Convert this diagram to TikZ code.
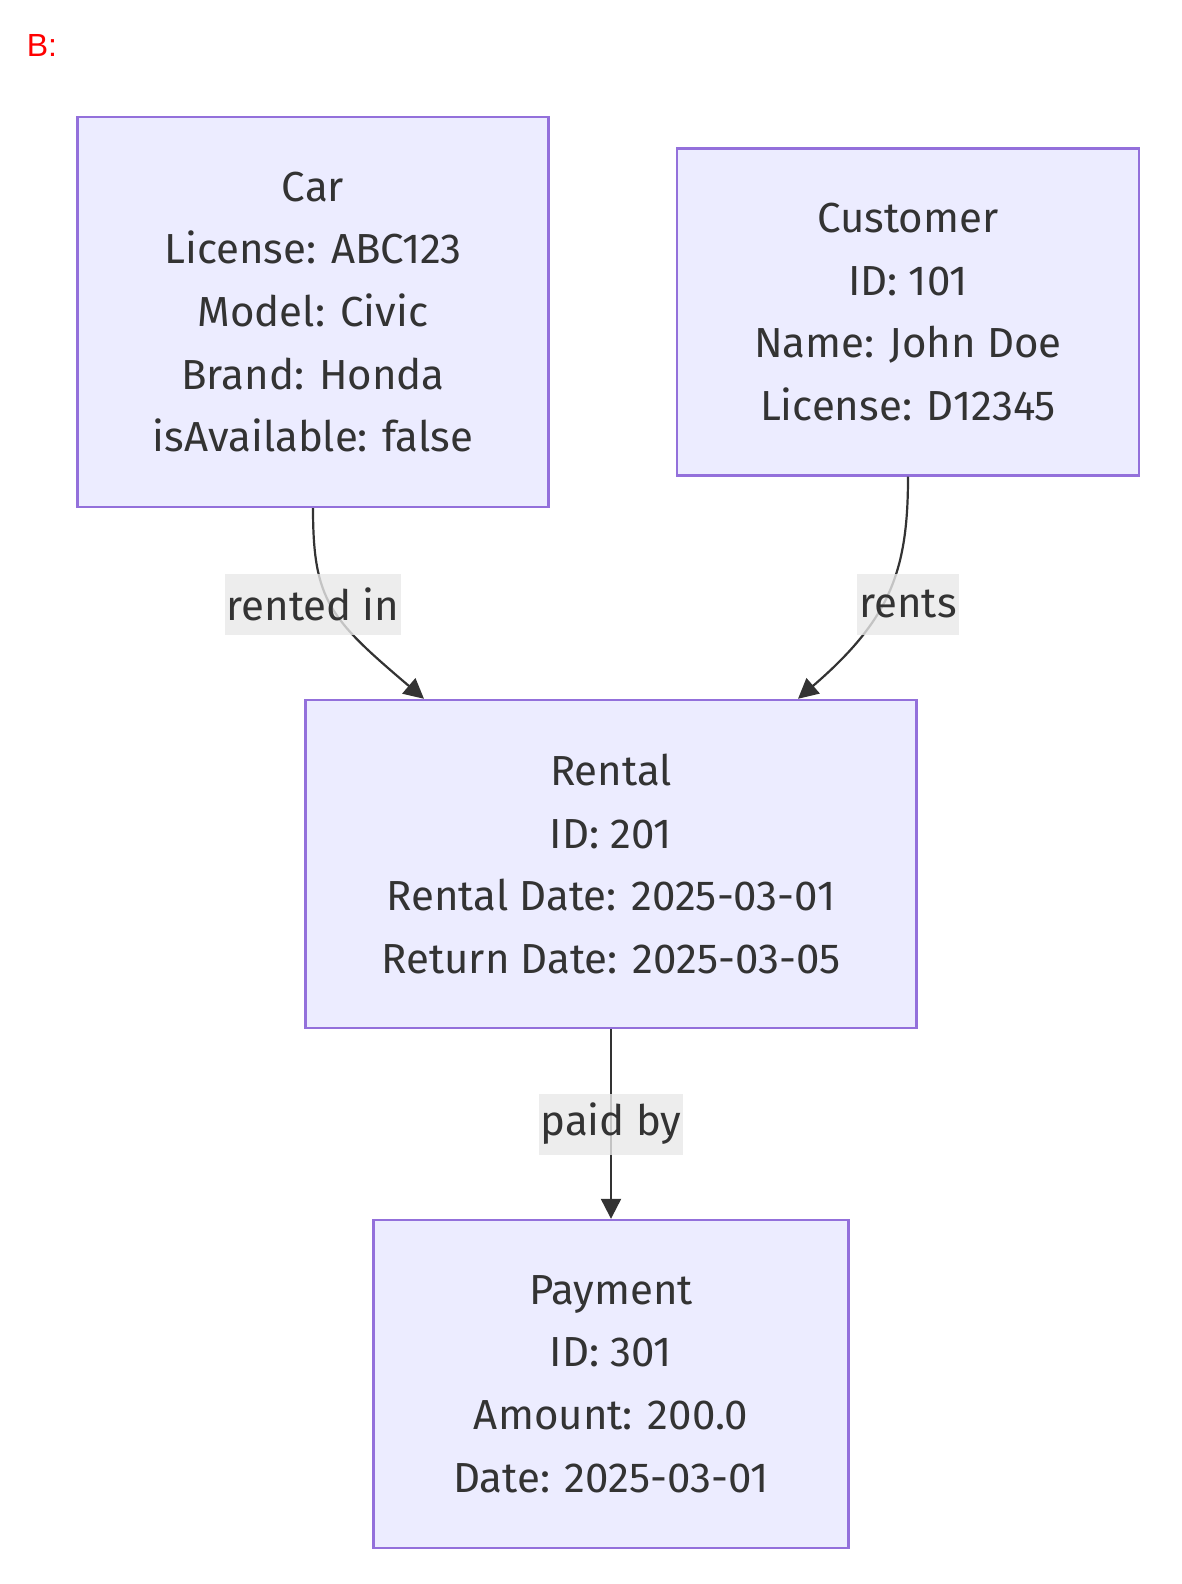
\documentclass[tikz,border=0pt]{standalone}
\usepackage{fontspec}
\setmainfont{Fira Sans}
\newfontfamily\markfont{Liberation Sans}
\usetikzlibrary{arrows.meta}
\definecolor{boxfill}{HTML}{ECECFF}
\definecolor{boxline}{HTML}{9370DB}
\definecolor{ink}{HTML}{333333}
\definecolor{edgebg}{HTML}{E8E8E8}

\begin{document}
\begin{tikzpicture}[x=0.5pt,y=-0.5pt,
  box/.style={draw=boxline,fill=boxfill,line width=1.2pt,text=ink,align=center,inner sep=0pt,font=\fontsize{21}{31.3}\selectfont},
  rel/.style={draw=ink,line width=1.1pt,-{Triangle[length=10pt,width=10pt]}},
  tag/.style={fill=edgebg,fill opacity=0.8,text opacity=1,text=ink,inner xsep=1pt,minimum height=30.5pt,font=\fontsize{21}{25}\selectfont}]

  \useasboundingbox (0,0) rectangle (1182,1584);

  \node[text=red,font=\markfont\fontsize{16}{16}\selectfont] (mark) at (42,45) {B:};

  % Entities
  \node[box,minimum width=235.5pt,minimum height=195pt] (car) at (313,312)
    {Car\\License: ABC123\\Model: Civic\\Brand: Honda\\isAvailable: false};
  \node[box,minimum width=231pt,minimum height=163.5pt] (customer) at (908,312)
    {Customer\\ID: 101\\Name: John Doe\\License: D12345};
  \node[box,minimum width=305.5pt,minimum height=164pt] (rental) at (611,864)
    {Rental\\ID: 201\\Rental Date: 2025-03-01\\Return Date: 2025-03-05};
  \node[box,minimum width=237.5pt,minimum height=164pt] (payment) at (611,1384)
    {Payment\\ID: 301\\Amount: 200.0\\Date: 2025-03-01};

  % Relations
  \draw[rel] (car.south) .. controls +(0,93) and +(-94,-80) .. ([xshift=-93.5pt]rental.north);
  \draw[rel] (customer.south) .. controls +(0,93) and +(93,-80) .. ([xshift=93.5pt]rental.north);
  \draw[rel] (rental.south) -- (payment.north);

  % Labels
  \node[tag] (rentedin) at (313,604) {rented in};
  \node[tag] (rents) at (908,604) {rents};
  \node[tag] (paidby) at (611,1124) {paid by};
\end{tikzpicture}
\end{document}
